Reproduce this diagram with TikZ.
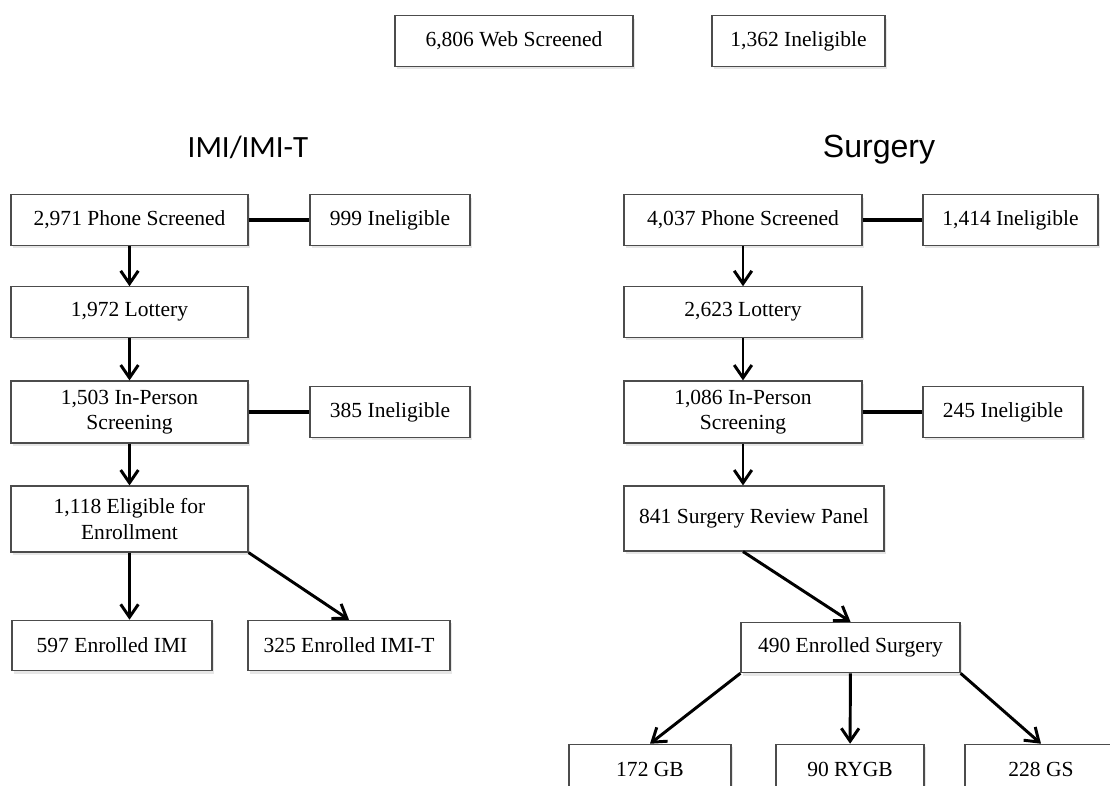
\documentclass[tikz,border=0pt]{standalone}
\usepackage{fontspec}
\setmainfont{Liberation Serif}
\newfontfamily\titlefont{Carlito}
\newfontfamily\titlesans{Liberation Sans}
\usetikzlibrary{arrows.meta, positioning, calc, shadows}

\begin{document}
\begin{tikzpicture}[
        x=0.025cm, y=-0.025cm,
        block/.style={draw=black!70, line width=0.8pt, fill=white, minimum height=1.26cm, inner sep=2pt, align=center, font=\fontsize{15.3}{18}\selectfont, drop shadow={shadow xshift=0.5mm, shadow yshift=-0.7mm, opacity=0.2}},
        arrow/.style={-{Straight Barb[length=3.2mm, width=4.4mm]}, line width=2.1pt},
        link/.style={line width=2.4pt},
        heading/.style={anchor=base, inner sep=0pt}
    ]
        \clip (0,0) rectangle (1110,785);

        % Web screening
        \node[block, minimum width=5.95cm] (web) at (514,41) {6,806 Web Screened};
        \node[block, minimum width=4.325cm] (webinel) at (798.5,41) {1,362 Ineligible};

        % IMI/IMI-T arm
        \node[heading, font=\titlefont\fontsize{22}{26}\selectfont] (imititle) at (248,157) {IMI/IMI-T};
        \node[block, minimum width=5.925cm] (lphone) at (129.5,220) {2,971 Phone Screened};
        \node[block, minimum width=4cm] (lphoneinel) at (390,220) {999 Ineligible};
        \node[block, minimum width=5.925cm] (llot) at (129.5,312) {1,972 Lottery};
        \node[block, minimum width=5.925cm, minimum height=1.55cm] (lin) at (129.5,412) {1,503 In-Person\\Screening};
        \node[block, minimum width=4cm] (lininel) at (390,412) {385 Ineligible};
        \node[block, minimum width=5.925cm, minimum height=1.65cm] (lelig) at (129.5,519) {1,118 Eligible for\\Enrollment};
        \node[block, minimum width=5cm] (imi) at (112,645.5) {597 Enrolled IMI};
        \node[block, minimum width=5.05cm] (imit) at (349,645.5) {325 Enrolled IMI-T};

        % Surgery arm
        \node[heading, font=\titlesans\fontsize{22.8}{27}\selectfont] (surgtitle) at (879,157) {Surgery};
        \node[block, minimum width=5.95cm] (rphone) at (743,220) {4,037 Phone Screened};
        \node[block, minimum width=4.375cm] (rphoneinel) at (1010.5,220) {1,414 Ineligible};
        \node[block, minimum width=5.95cm] (rlot) at (743,312) {2,623 Lottery};
        \node[block, minimum width=5.95cm, minimum height=1.55cm] (rin) at (743,412) {1,086 In-Person\\Screening};
        \node[block, minimum width=4cm] (rininel) at (1003,412) {245 Ineligible};
        \node[block, minimum width=6.5cm, minimum height=1.625cm] (panel) at (754,518.5) {841 Surgery Review Panel};
        \node[block, minimum width=5.475cm] (enrsurg) at (850.5,647.5) {490 Enrolled Surgery};
        \node[block, minimum width=4.05cm] (gb) at (650,769.5) {172 GB};
        \node[block, minimum width=3.7cm] (rygb) at (850,769.5) {90 RYGB};
        \node[block, minimum width=3.8cm] (gs) at (1041,769.5) {228 GS};

        % Connectors, IMI/IMI-T
        \draw[link] (lphone) -- (lphoneinel);
        \draw[arrow] (lphone) -- (llot);
        \draw[arrow] (llot) -- (lin);
        \draw[link] (lin) -- (lininel);
        \draw[arrow] (lin) -- (lelig);
        \draw[arrow] (lelig.south) -- (lelig.south |- imi.north);
        \draw[arrow] (lelig.south east) -- (imit.north);

        % Connectors, Surgery
        \draw[link] (rphone) -- (rphoneinel);
        \draw[arrow] (rphone) -- (rlot);
        \draw[arrow] (rlot) -- (rin);
        \draw[link] (rin) -- (rininel);
        \draw[arrow] (rin.south) -- (rin.south |- panel.north);
        \draw[arrow] (rin.south |- panel.south) -- (enrsurg.north);
        \draw[arrow] (enrsurg.south west) -- (gb.north);
        \draw[arrow] (enrsurg) -- (rygb);
        \draw[arrow] (enrsurg.south east) -- (gs.north);
    \end{tikzpicture}
\end{document}
